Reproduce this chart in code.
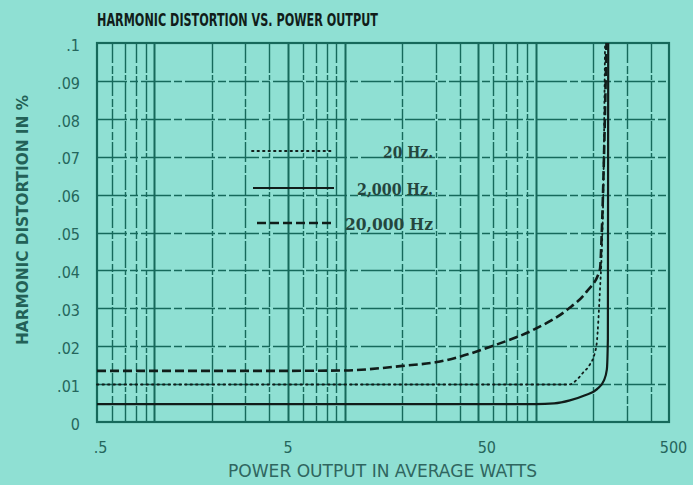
<!DOCTYPE html>
<html>
<head>
<meta charset="utf-8">
<script src="https://cdn.jsdelivr.net/npm/d3@7"></script>
<style>
  html, body { margin: 0; padding: 0; background: #8fe0d3; }
  svg { display: block; }
</style>
</head>
<body>
<div id="chart"></div>
<script>
////////////////////////////// DATA ////////////////////////////////

const titleText = "HARMONIC DISTORTION VS. POWER OUTPUT";
const xTitle = "POWER OUTPUT IN AVERAGE WATTS";
const yTitle = "HARMONIC DISTORTION IN %";

const xTickValues = [0.5, 5, 50, 500];
const xTickLabels = [".5", "5", "50", "500"];
const yTickValues = [0, 0.01, 0.02, 0.03, 0.04, 0.05, 0.06, 0.07, 0.08, 0.09, 0.1];
const yTickLabels = ["0", ".01", ".02", ".03", ".04", ".05", ".06", ".07", ".08", ".09", ".1"];

// 20 Hz (dotted)
const watts20 = [0.5, 10, 50, 150, 164, 177, 192, 204, 209, 217, 222, 226, 231];
const thd20 = [0.0099, 0.0099, 0.0099, 0.0099, 0.0111, 0.013, 0.0151, 0.0182, 0.0209, 0.0345, 0.045, 0.06, 0.1];

// 2,000 Hz (solid)
const watts2k = [0.5, 10, 50, 100, 125, 151, 180, 209, 228, 236, 239, 240];
const thd2k = [0.0047, 0.0047, 0.0047, 0.0047, 0.0049, 0.0057, 0.007, 0.0086, 0.011, 0.0138, 0.022, 0.1];

// 20,000 Hz (dashed)
const watts20k = [0.5, 5, 10, 20, 31, 62, 97, 146, 185, 217, 222, 228, 235];
const thd20k = [0.0135, 0.0135, 0.0136, 0.0148, 0.0159, 0.0204, 0.0243, 0.0296, 0.0344, 0.0402, 0.05, 0.07, 0.1];

const legendLabels = ["20 Hz.", "2,000 Hz.", "20,000 Hz"];

////////////////////////////// SET UP ////////////////////////////////

const width = 693;
const height = 485;
const margin = { top: 43, right: 24, bottom: 63, left: 97 };

const gridColor = "#16695b";
const inkColor = "#111d1a";
const labelColor = "#25665c";

const svg = d3
  .select("#chart")
  .append("svg")
  .attr("width", width)
  .attr("height", height);

svg.append("rect")
  .attr("width", width)
  .attr("height", height)
  .attr("fill", "#8fe0d3");

const x = d3
  .scaleLog()
  .domain([0.5, 500])
  .range([margin.left, width - margin.right]);

const y = d3
  .scaleLinear()
  .domain([0, 0.1])
  .range([height - margin.bottom, margin.top]);

////////////////////////////// GRID ////////////////////////////////

const gridG = svg.append("g");

// vertical log grid (0.5, 0.6 ... 1, 2 ... 10, 20 ... 500)
const xGrid = x.ticks().filter((d) => d > 0.5 && d < 500);
const isMajor = (d) => [1, 5, 10, 50, 100].includes(+d.toPrecision(3));

gridG
  .selectAll(".vgrid")
  .data(xGrid)
  .join("line")
  .attr("class", "vgrid")
  .attr("x1", (d) => Math.round(x(d)) + 0.5)
  .attr("x2", (d) => Math.round(x(d)) + 0.5)
  .attr("y1", y(0.1))
  .attr("y2", y(0))
  .attr("stroke", gridColor)
  .attr("stroke-width", (d) => (isMajor(d) ? 2 : 1.4))
  .attr("stroke-dasharray", (d, i) => (isMajor(d) ? null : i % 2 ? "30,2,5,2" : "20,3,8,2"));

// horizontal grid every .01
gridG
  .selectAll(".hgrid")
  .data(yTickValues.filter((d) => d > 0 && d < 0.1))
  .join("line")
  .attr("class", "hgrid")
  .attr("x1", x(0.5))
  .attr("x2", x(500))
  .attr("y1", (d) => Math.round(y(d)) + 0.5)
  .attr("y2", (d) => Math.round(y(d)) + 0.5)
  .attr("stroke", gridColor)
  .attr("stroke-width", 1.7)
  .attr("stroke-dasharray", "30,3,8,3");

// frame
svg.append("rect")
  .attr("x", x(0.5))
  .attr("y", y(0.1))
  .attr("width", x(500) - x(0.5))
  .attr("height", y(0) - y(0.1))
  .attr("fill", "none")
  .attr("stroke", gridColor)
  .attr("stroke-width", 2.2);

////////////////////////////// AXES ////////////////////////////////

const tickFont = "'DejaVu Sans Condensed', 'Liberation Sans Narrow', sans-serif";

const xAxis = d3
  .axisBottom(x)
  .tickValues(xTickValues)
  .tickFormat((d, i) => xTickLabels[i])
  .tickSize(0)
  .tickPadding(20);

svg.append("g")
  .attr("transform", `translate(0,${y(0)})`)
  .call(xAxis)
  .call((g) => g.select(".domain").remove())
  .call((g) =>
    g.selectAll("text")
      .attr("fill", labelColor)
      .attr("font-family", tickFont)
      .attr("font-size", 16)
      .attr("dx", (d, i) => [3, 0, 8, 4][i])
  );

const yAxis = d3
  .axisLeft(y)
  .tickValues(yTickValues)
  .tickFormat((d, i) => yTickLabels[i])
  .tickSize(0)
  .tickPadding(17);

svg.append("g")
  .attr("transform", `translate(${x(0.5)},0)`)
  .call(yAxis)
  .call((g) => g.select(".domain").remove())
  .call((g) =>
    g.selectAll("text")
      .attr("fill", labelColor)
      .attr("font-family", tickFont)
      .attr("font-size", 16)
      .attr("dy", "0.45em")
  );

////////////////////////////// TITLES ////////////////////////////////

svg.append("text")
  .attr("x", margin.left)
  .attr("y", 26)
  .attr("font-family", tickFont)
  .attr("font-weight", "bold")
  .attr("font-size", 17.5)
  .attr("textLength", 281)
  .attr("lengthAdjust", "spacingAndGlyphs")
  .attr("fill", inkColor)
  .text(titleText);

svg.append("text")
  .attr("x", 228)
  .attr("y", 477)
  .attr("font-family", tickFont)
  .attr("font-size", 17)
  .attr("textLength", 309)
  .attr("lengthAdjust", "spacingAndGlyphs")
  .attr("fill", "#2f6660")
  .text(xTitle);

svg.append("text")
  .attr("transform", "translate(28,345) rotate(-90)")
  .attr("font-family", tickFont)
  .attr("font-weight", "bold")
  .attr("font-size", 15)
  .attr("textLength", 250)
  .attr("lengthAdjust", "spacingAndGlyphs")
  .attr("fill", "#236157")
  .text(yTitle);

////////////////////////////// CURVES ////////////////////////////////

const series = [
  { watts: watts20, thd: thd20, dash: "1.5,4", width: 1.8 },
  { watts: watts2k, thd: thd2k, dash: null, width: 2.2 },
  { watts: watts20k, thd: thd20k, dash: "9,4", width: 2.6 },
];

const line = d3
  .line()
  .x((d) => x(d[0]))
  .y((d) => y(d[1]))
  .curve(d3.curveMonotoneX);

svg.append("g")
  .selectAll("path")
  .data(series)
  .join("path")
  .attr("d", (s) => line(s.watts.map((w, i) => [w, s.thd[i]])))
  .attr("fill", "none")
  .attr("stroke", inkColor)
  .attr("stroke-width", (s) => s.width)
  .attr("stroke-dasharray", (s) => s.dash)
  .attr("stroke-linecap", (s, i) => (i === 0 ? "round" : "butt"));

////////////////////////////// LEGEND ////////////////////////////////

const legendY = [151, 188, 223];
const legendTextWidth = [50, 76, 88];

const legend = svg.append("g")
  .selectAll("g")
  .data(series)
  .join("g")
  .attr("transform", (d, i) => `translate(0,${legendY[i]})`);

legend.append("line")
  .attr("x1", (d, i) => [252, 253, 257][i])
  .attr("x2", 334)
  .attr("stroke", inkColor)
  .attr("stroke-width", (s) => s.width)
  .attr("stroke-dasharray", (s) => s.dash)
  .attr("stroke-linecap", (s, i) => (i === 0 ? "round" : "butt"));

legend.append("text")
  .attr("x", (d, i) => 433 - legendTextWidth[i])
  .attr("y", 7)
  .attr("font-family", "'DejaVu Serif Condensed', 'DejaVu Serif', serif")
  .attr("font-weight", "bold")
  .attr("font-size", 16)
  .attr("textLength", (d, i) => legendTextWidth[i])
  .attr("lengthAdjust", "spacingAndGlyphs")
  .attr("fill", "#24463e")
  .text((d, i) => legendLabels[i]);
</script>
</body>
</html>
